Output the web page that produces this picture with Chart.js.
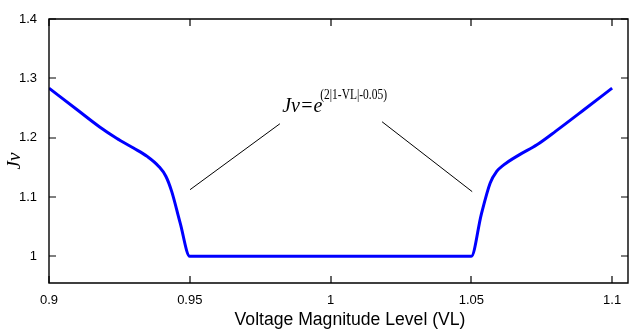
<!DOCTYPE html>
<html>
<head>
<meta charset="utf-8">
<script src="https://cdn.jsdelivr.net/npm/chart.js@4/dist/chart.umd.min.js"></script>
<style>
html,body{margin:0;padding:0;background:#fff;}
#wrap{width:635px;height:332px;position:relative;}
</style>
</head>
<body>
<div id="wrap"><canvas id="c"></canvas></div>
<script>
// Data
const vlValues = [0.9, 0.91, 0.918, 0.924, 0.93, 0.935, 0.939, 0.9415, 0.9436, 0.9466, 0.95,
                  1.05, 1.0535, 1.0567, 1.059, 1.0615, 1.067, 1.0733, 1.08, 1.09, 1.1];
const jvValues = [1.2835, 1.247, 1.218, 1.199, 1.1825, 1.168, 1.1515, 1.135, 1.109, 1.056, 1.0,
                  1.0, 1.07, 1.1236, 1.143, 1.154, 1.171, 1.188, 1.211, 1.247, 1.2835];
const leftPointerX = [0.9501, 0.982];
const leftPointerY = [1.1123, 1.2234];
const rightPointerX = [1.0183, 1.0503];
const rightPointerY = [1.2268, 1.109];
const xTicks = [0.9, 0.95, 1, 1.05, 1.1];
const yTicks = [1, 1.1, 1.2, 1.3, 1.4];
const xLabel = 'Voltage Magnitude Level (VL)';
const yLabel = 'Jv';
const formulaMain = 'Jv=e';
const formulaSup = '(2|1-VL|-0.05)';
const formulaAnchor = {x: 0.9828, y: 1.247};

const zip = (xs, ys) => xs.map((x, i) => ({x, y: ys[i]}));

const frame = {
  id: 'frame',
  afterDraw(chart) {
    const ctx = chart.ctx;
    const a = chart.chartArea;
    const xs = chart.scales.x, ys = chart.scales.y;
    ctx.save();
    ctx.setLineDash([]);
    ctx.strokeStyle = '#000000';
    ctx.lineWidth = 1.4;
    const L = Math.round(a.left), R = Math.round(a.right) - 1;
    const T = Math.round(a.top), B = Math.round(a.bottom);
    ctx.beginPath();
    ctx.moveTo(L, T); ctx.lineTo(R, T); ctx.lineTo(R, B); ctx.lineTo(L, B); ctx.closePath();
    ctx.stroke();
    ctx.lineWidth = 1.2;
    ctx.beginPath();
    const tl = 7;
    xTicks.forEach(v => {
      const px = Math.round(xs.getPixelForValue(v));
      ctx.moveTo(px, B); ctx.lineTo(px, B - tl);
      ctx.moveTo(px, T); ctx.lineTo(px, T + tl);
    });
    yTicks.forEach(v => {
      const py = Math.round(ys.getPixelForValue(v));
      ctx.moveTo(L, py); ctx.lineTo(L + tl, py);
      ctx.moveTo(R, py); ctx.lineTo(R - tl, py);
    });
    ctx.stroke();

    // axis titles
    ctx.fillStyle = '#000';
    ctx.font = '17.6px "Liberation Sans", Arial, sans-serif';
    ctx.textAlign = 'center';
    ctx.textBaseline = 'middle';
    ctx.fillText(xLabel, 350, 320);
    ctx.save();
    ctx.translate(15, 161);
    ctx.rotate(-Math.PI / 2);
    ctx.font = 'italic 19px "Liberation Serif", "DejaVu Serif", serif';
    ctx.fillText(yLabel, 0, 0);
    ctx.restore();

    // formula annotation
    const fx = xs.getPixelForValue(formulaAnchor.x);
    const fy = ys.getPixelForValue(formulaAnchor.y) + 2;
    ctx.textAlign = 'left';
    ctx.textBaseline = 'alphabetic';
    ctx.font = 'italic 20px "Liberation Serif", serif';
    ctx.fillText(formulaMain, fx, fy);
    const w = ctx.measureText(formulaMain).width;
    ctx.font = '14px "Liberation Serif", serif';
    ctx.save();
    ctx.translate(fx + w - 2, fy - 13);
    ctx.scale(0.82, 1);
    ctx.fillText(formulaSup, 0, 0);
    ctx.restore();
    ctx.restore();
  }
};

new Chart(document.getElementById('c'), {
  type: 'line',
  data: {
    datasets: [
      {data: zip(vlValues, jvValues), borderColor: '#0000ff', borderWidth: 3,
       pointRadius: 0, cubicInterpolationMode: 'monotone', fill: false},
      {data: zip(leftPointerX, leftPointerY), borderColor: '#000', borderWidth: 1,
       pointRadius: 0, fill: false},
      {data: zip(rightPointerX, rightPointerY), borderColor: '#000', borderWidth: 1,
       pointRadius: 0, fill: false}
    ]
  },
  options: {
    responsive: true,
    maintainAspectRatio: false,
    animation: false,
    layout: {padding: {top: 19, right: 6, left: 0, bottom: 0}},
    plugins: {legend: {display: false}, tooltip: {enabled: false}},
    scales: {
      x: {
        type: 'linear', min: 0.9, max: 1.106,
        grid: {display: false}, border: {display: false},
        afterBuildTicks: s => { s.ticks = xTicks.map(v => ({value: v})); },
        afterFit: s => { s.height = 49; },
        ticks: {color: '#000', padding: 2, maxRotation: 0,
                font: {family: '"Liberation Sans", Arial, sans-serif', size: 13},
                callback: v => String(v)}
      },
      y: {
        type: 'linear', min: 0.955, max: 1.4,
        grid: {display: false}, border: {display: false},
        afterBuildTicks: s => { s.ticks = yTicks.map(v => ({value: v})); },
        afterFit: s => { s.width = 49; },
        ticks: {color: '#000', padding: 4,
                font: {family: '"Liberation Sans", Arial, sans-serif', size: 13},
                callback: v => String(v)}
      }
    }
  },
  plugins: [frame]
});
</script>
</body>
</html>
